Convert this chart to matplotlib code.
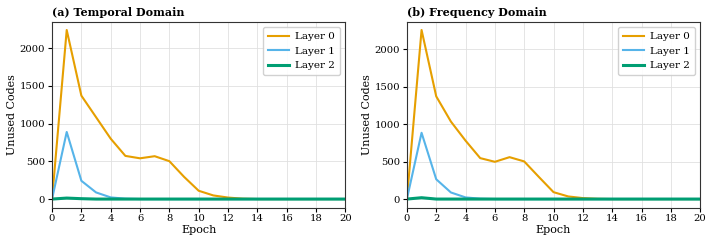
import numpy as np
import matplotlib.pyplot as plt

plt.rcParams['font.family'] = 'DejaVu Serif'

epochs = list(range(21))

# (a) temporal domain
temporal_layer0 = [0, 2240, 1370, 1085, 800, 572, 540, 568, 502, 295, 110, 48, 20, 5, 0, 0, 0, 0, 0, 0, 0]
temporal_layer1 = [0, 889, 242, 88, 22, 5, 0, 0, 0, 0, 0, 0, 0, 0, 0, 0, 0, 0, 0, 0, 0]
temporal_layer2 = [0, 13, 5, 0, 0, 0, 0, 0, 0, 0, 0, 0, 0, 0, 0, 0, 0, 0, 0, 0, 0]

# (b) frequency domain
freq_layer0 = [0, 2255, 1370, 1034, 779, 546, 497, 559, 502, 295, 92, 35, 13, 3, 0, 0, 0, 0, 0, 0, 0]
freq_layer1 = [0, 884, 264, 88, 22, 5, 0, 0, 0, 0, 0, 0, 0, 0, 0, 0, 0, 0, 0, 0, 0]
freq_layer2 = [0, 18, 0, 0, 0, 0, 0, 0, 0, 0, 0, 0, 0, 0, 0, 0, 0, 0, 0, 0, 0]

titles = ['(a) Temporal Domain', '(b) Frequency Domain']
layer_labels = ['Layer 0', 'Layer 1', 'Layer 2']
colors = ['#E69F00', '#56B4E9', '#009E73']
widths = [1.5, 1.5, 2.2]

panels = [
    [temporal_layer0, temporal_layer1, temporal_layer2],
    [freq_layer0, freq_layer1, freq_layer2],
]

fig, axes = plt.subplots(1, 2, figsize=(7.13, 2.45), dpi=100)
fig.subplots_adjust(left=0.073, right=0.982, top=0.912, bottom=0.153, wspace=0.21)

for ax, title, series in zip(axes, titles, panels):
    for vals, lab, c, lw in zip(series, layer_labels, colors, widths):
        ax.plot(epochs, vals, color=c, lw=lw, label=lab)
    ax.set_xlim(0, 20)
    ax.set_xticks(range(0, 21, 2))
    ax.set_yticks([0, 500, 1000, 1500, 2000])
    ax.grid(True, color='#e0e0e0', lw=0.6)
    for s in ax.spines.values():
        s.set_color('#333333')
    ax.set_xlabel('Epoch', fontsize=8, labelpad=1)
    ax.set_ylabel('Unused Codes', fontsize=8, labelpad=2)
    ax.set_title(title, loc='left', fontsize=8, fontweight='bold', pad=4)
    ax.tick_params(labelsize=7.2, length=3, pad=2)
    ax.legend(fontsize=7.5, loc='upper right', handlelength=2.0, handletextpad=0.6,
              borderpad=0.5, labelspacing=0.5, framealpha=0.9, edgecolor='#cccccc')

fig.savefig('out.png', dpi=100)
